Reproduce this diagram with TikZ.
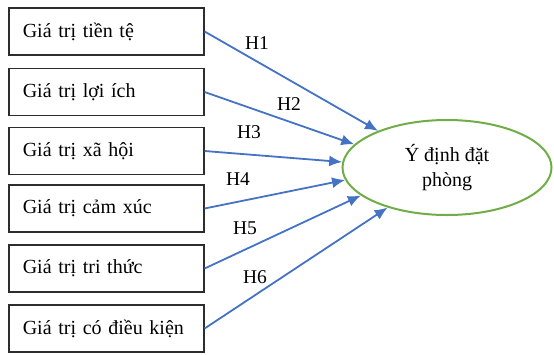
\documentclass[tikz,border=0pt]{standalone}
\usepackage{fontspec}
\setmainfont{Liberation Serif}
\usetikzlibrary{arrows.meta,shapes.geometric}
\definecolor{arrblue}{RGB}{68,114,196}
\definecolor{elgreen}{RGB}{112,173,71}
\definecolor{boxline}{RGB}{45,45,45}
\begin{document}
\begin{tikzpicture}[x=1pt,y=-1pt,
  varbox/.style={draw=boxline,line width=1.6pt,rectangle,anchor=west,minimum width=195pt,minimum height=47pt,
    text width=167pt,inner xsep=14pt,align=left,font=\fontsize{20}{24}\selectfont},
  target/.style={draw=elgreen,line width=2pt,ellipse,minimum width=209pt,minimum height=95pt,inner sep=0pt,
    align=center,font=\fontsize{20}{25}\selectfont},
  hyp/.style={draw=arrblue,line width=1.8pt,-{Latex[length=13pt,width=11pt]}},
  hlabel/.style={font=\fontsize{19.5}{22}\selectfont,inner sep=0pt}]
\useasboundingbox (0,0) rectangle (554,354);
\node[varbox] (b1) at (8,31.5) {Giá trị tiền tệ};
\node[varbox] (b2) at (8,92) {Giá trị lợi ích};
\node[varbox] (b3) at (8,151) {Giá trị xã hội};
\node[varbox] (b4) at (8,208.5) {Giá trị cảm xúc};
\node[varbox] (b5) at (8,268.5) {Giá trị tri thức};
\node[varbox] (b6) at (8,328.5) {Giá trị có điều kiện};
\node[target] (y) at (447,167.5) {Ý định đặt\\phòng};
\draw[hyp] (b1.east) -- (y.152.5);
\draw[hyp] (b2.east) -- (y.166);
\draw[hyp] (b3.east) -- (y.177);
\draw[hyp] (b4.east) -- (y.187);
\draw[hyp] (b5.east) -- (y.198);
\draw[hyp] (b6.east) -- (y.214.5);
\node[hlabel] (h1) at (257,43) {H1};
\node[hlabel] (h2) at (289,104) {H2};
\node[hlabel] (h3) at (249,132) {H3};
\node[hlabel] (h4) at (238,179) {H4};
\node[hlabel] (h5) at (245,228) {H5};
\node[hlabel] (h6) at (255,277) {H6};
\end{tikzpicture}
\end{document}
